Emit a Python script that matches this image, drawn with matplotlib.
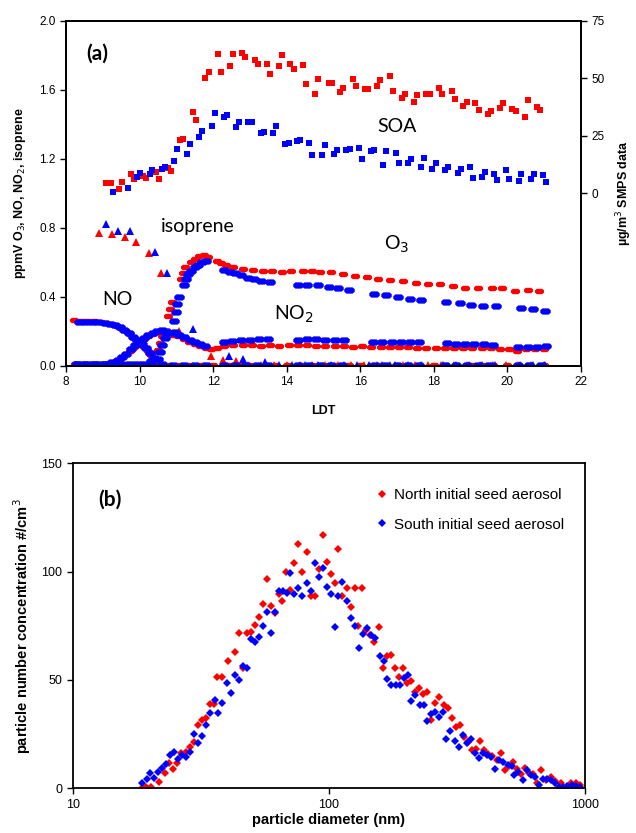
import numpy as np
import matplotlib
matplotlib.use("Agg")
import matplotlib.pyplot as plt

plt.rcParams['font.family'] = ['Liberation Sans', 'DejaVu Sans']

RED = '#ff0000'
BLUE = '#0000ff'

# ---------------- panel (a): chamber data vs local daylight time ----------------
# SOA from SMPS (right axis, ug/m3)
soa_t_n = [9.10, 9.21, 9.45, 9.52, 9.76, 9.85, 10.08, 10.17, 10.45, 10.52, 10.77, 10.85,
           11.10, 11.19, 11.46, 11.54, 11.79, 11.88, 12.13, 12.22, 12.47, 12.55, 12.79, 12.87,
           13.14, 13.22, 13.46, 13.54, 13.80, 13.88, 14.10, 14.19, 14.44, 14.52, 14.77, 14.85,
           15.15, 15.22, 15.46, 15.54, 15.79, 15.88, 16.12, 16.22, 16.46, 16.54, 16.80, 16.89,
           17.13, 17.22, 17.47, 17.55, 17.79, 17.89, 18.13, 18.22, 18.48, 18.58, 18.80, 18.89,
           19.13, 19.22, 19.47, 19.55, 19.79, 19.88, 20.13, 20.22, 20.47, 20.55, 20.80, 20.89]
soa_v_n = [4.5, 4.5, 1.7, 4.8, 8.5, 6.3, 7.6, 6.7, 9.0, 6.3, 10.9, 9.8,
           23.3, 23.5, 35.3, 31.7, 49.9, 52.8, 60.5, 52.8, 55.3, 60.5, 61.1, 59.3,
           57.9, 56.0, 56.1, 51.6, 55.3, 60.1, 56.0, 53.9, 55.8, 47.3, 43.2, 49.5,
           47.7, 48.1, 44.0, 45.8, 49.5, 46.8, 45.1, 45.1, 46.4, 49.0, 50.9, 44.5,
           41.4, 43.3, 39.6, 42.7, 43.3, 43.3, 45.7, 43.2, 44.5, 41.0, 38.1, 39.7,
           39.4, 36.1, 34.3, 35.8, 36.9, 39.3, 36.6, 35.8, 32.9, 40.4, 37.5, 36.1]

soa_t_s = [9.29, 9.68, 9.92, 10.01, 10.27, 10.35, 10.60, 10.69, 10.93, 11.01, 11.28, 11.37,
           11.62, 11.71, 11.96, 12.04, 12.29, 12.38, 12.63, 12.71, 12.96, 13.05, 13.30, 13.38,
           13.63, 13.71, 13.96, 14.05, 14.28, 14.36, 14.60, 14.69, 14.95, 15.05, 15.29, 15.38,
           15.62, 15.72, 15.96, 16.04, 16.29, 16.38, 16.63, 16.71, 16.97, 17.05, 17.30, 17.38,
           17.64, 17.72, 17.96, 18.05, 18.30, 18.39, 18.66, 18.75, 18.98, 19.06, 19.30, 19.39,
           19.63, 19.72, 19.97, 20.05, 20.31, 20.38, 20.64, 20.72, 20.97, 21.05]
soa_v_s = [0.4, 2.2, 7.0, 8.7, 8.2, 10.2, 10.6, 11.3, 13.8, 19.2, 16.9, 21.4,
           24.4, 27.2, 29.4, 34.8, 33.0, 34.2, 28.8, 30.8, 30.8, 31.1, 26.3, 26.8,
           26.2, 29.2, 21.4, 21.8, 22.8, 23.1, 21.8, 16.4, 16.6, 20.9, 16.9, 18.8,
           18.8, 19.2, 19.6, 14.7, 18.3, 18.8, 12.4, 18.3, 17.4, 13.0, 13.0, 14.8,
           11.2, 15.3, 10.6, 13.0, 10.2, 11.5, 8.7, 10.6, 11.2, 6.5, 7.2, 9.0,
           8.2, 5.7, 10.2, 6.1, 5.2, 8.5, 6.1, 8.5, 8.0, 4.8]

# O3 (ppmV)
o3_t_n = [8.25, 8.45, 8.65, 8.85, 9.05, 9.25, 9.45, 9.65, 9.85, 10.05, 10.25,
          10.42, 10.50, 10.56, 10.62, 10.78, 10.83, 10.88, 11.12, 11.18, 11.24, 11.40,
          11.50, 11.62, 11.75, 11.85, 12.10, 12.20, 12.35, 12.55, 12.82, 13.09, 13.36,
          13.59, 13.86, 14.13, 14.45, 14.68, 14.90, 15.20, 15.52, 15.85, 16.17, 16.49,
          16.82, 17.17, 17.51, 17.85, 18.16, 18.53, 18.84, 19.20, 19.57, 19.84, 20.20,
          20.55, 20.87]
o3_v_n = [0.01, 0.01, 0.01, 0.01, 0.01, 0.01, 0.01, 0.01, 0.01, 0.01, 0.01,
          0.04, 0.09, 0.13, 0.17, 0.29, 0.33, 0.37, 0.50, 0.54, 0.57, 0.60,
          0.62, 0.635, 0.64, 0.63, 0.605, 0.595, 0.585, 0.572, 0.563, 0.555, 0.551,
          0.546, 0.545, 0.548, 0.549, 0.546, 0.545, 0.541, 0.530, 0.518, 0.512, 0.504,
          0.496, 0.493, 0.478, 0.472, 0.474, 0.462, 0.452, 0.449, 0.449, 0.449, 0.433,
          0.439, 0.435]

o3_t_s = [8.30, 8.50, 8.70, 8.90, 9.10, 9.30, 9.50, 9.70, 9.90, 10.10, 10.30,
          10.50, 10.56, 10.62, 10.68, 10.72, 10.93, 10.98, 11.03, 11.08, 11.20, 11.26,
          11.32, 11.40, 11.50, 11.60, 11.70, 11.80, 12.30, 12.45, 12.60, 12.75, 12.95,
          13.10, 13.30, 13.55, 14.30, 14.55, 14.85, 15.15, 15.40, 15.68, 16.38, 16.70,
          17.02, 17.35, 17.65, 18.34, 18.71, 19.02, 19.34, 19.68, 20.38, 20.70, 21.03]
o3_v_s = [0.01, 0.01, 0.01, 0.01, 0.01, 0.01, 0.01, 0.01, 0.01, 0.01, 0.01,
          0.04, 0.08, 0.12, 0.16, 0.19, 0.26, 0.31, 0.36, 0.40, 0.47, 0.50,
          0.53, 0.55, 0.57, 0.585, 0.60, 0.605, 0.555, 0.545, 0.535, 0.525, 0.510,
          0.500, 0.490, 0.485, 0.470, 0.468, 0.465, 0.455, 0.448, 0.437, 0.417, 0.408,
          0.398, 0.388, 0.380, 0.371, 0.362, 0.352, 0.346, 0.346, 0.334, 0.328, 0.318]

# NO (ppmV)
no_t_n = [8.22, 8.40, 8.58, 8.76, 8.94, 9.10, 9.25, 9.38, 9.50, 9.62, 9.74, 9.86,
          9.98, 10.10, 10.22, 10.32, 10.42, 10.55, 10.80, 11.10, 11.40, 11.70, 12.00,
          12.40, 12.70, 13.00, 13.40, 13.70, 14.00, 14.40, 14.70, 15.00, 15.30, 15.70,
          16.00, 16.30, 16.60, 17.00, 17.30, 17.60, 18.00, 18.30, 18.60, 19.00, 19.30,
          19.60, 20.00, 20.30, 20.60, 21.00]
no_v_n = [0.264, 0.260, 0.258, 0.257, 0.255, 0.250, 0.243, 0.232, 0.218, 0.202, 0.182,
          0.162, 0.140, 0.115, 0.088, 0.060, 0.030, 0.010, 0.005, 0.005, 0.005, 0.005,
          0.005, 0.005, 0.005, 0.005, 0.005, 0.005, 0.005, 0.005, 0.005, 0.005, 0.005,
          0.005, 0.005, 0.005, 0.005, 0.005, 0.005, 0.005, 0.005, 0.005, 0.005, 0.005,
          0.005, 0.005, 0.005, 0.005, 0.005, 0.005]

no_t_s = [8.35, 8.52, 8.70, 8.88, 9.05, 9.20, 9.33, 9.46, 9.58, 9.70, 9.82, 9.94,
          10.06, 10.18, 10.28, 10.38, 10.30, 10.60, 10.90, 11.20, 11.50, 11.80, 12.30,
          12.60, 12.90, 13.20, 13.50, 14.30, 14.60, 14.90, 15.20, 15.50, 16.40, 16.70,
          17.00, 17.30, 17.60, 18.30, 18.60, 18.90, 19.20, 19.50, 20.30, 20.60, 20.90]
no_v_s = [0.255, 0.256, 0.255, 0.252, 0.248, 0.242, 0.233, 0.222, 0.205, 0.188, 0.168,
          0.148, 0.125, 0.100, 0.075, 0.045, 0.030, 0.008, 0.005, 0.005, 0.005, 0.005,
          0.005, 0.005, 0.005, 0.005, 0.005, 0.005, 0.005, 0.005, 0.005, 0.005, 0.005,
          0.005, 0.005, 0.005, 0.005, 0.005, 0.005, 0.005, 0.005, 0.005, 0.005, 0.005,
          0.005]

# NO2 (ppmV)
no2_t_n = [8.25, 8.50, 8.75, 9.00, 9.20, 9.35, 9.50, 9.62, 9.74, 9.86, 9.98, 10.10,
           10.22, 10.34, 10.46, 10.58, 10.68, 10.90, 11.05, 11.20, 11.35, 11.50, 11.65,
           11.80, 11.95, 12.10, 12.30, 12.55, 12.80, 13.05, 13.30, 13.55, 13.80, 14.05,
           14.30, 14.55, 14.80, 15.05, 15.30, 15.55, 15.80, 16.05, 16.30, 16.55, 16.80,
           17.05, 17.30, 17.55, 17.80, 18.05, 18.30, 18.55, 18.80, 19.05, 19.30, 19.55,
           19.80, 20.05, 20.25, 20.50, 20.75, 21.00]
no2_v_n = [0.010, 0.010, 0.010, 0.012, 0.018, 0.030, 0.045, 0.065, 0.085, 0.110, 0.130,
           0.150, 0.170, 0.185, 0.195, 0.200, 0.195, 0.180, 0.170, 0.155, 0.140, 0.125,
           0.115, 0.105, 0.095, 0.105, 0.115, 0.120, 0.118, 0.118, 0.115, 0.118, 0.115,
           0.118, 0.120, 0.120, 0.115, 0.115, 0.115, 0.112, 0.110, 0.112, 0.110, 0.110,
           0.108, 0.110, 0.108, 0.105, 0.105, 0.100, 0.105, 0.100, 0.100, 0.100, 0.100,
           0.100, 0.098, 0.095, 0.085, 0.095, 0.097, 0.098]

no2_t_s = [8.30, 8.55, 8.80, 9.05, 9.25, 9.40, 9.52, 9.64, 9.76, 9.88, 10.00, 10.12,
           10.24, 10.36, 10.48, 10.60, 10.72, 10.85, 10.95, 11.08, 11.22, 11.36, 11.50,
           11.64, 11.78, 12.30, 12.50, 12.75, 13.00, 13.25, 13.50, 14.30, 14.55, 14.80,
           15.05, 15.30, 15.55, 16.35, 16.60, 16.85, 17.10, 17.35, 17.60, 18.35, 18.60,
           18.85, 19.10, 19.35, 19.60, 20.30, 20.55, 20.80, 21.05]
no2_v_s = [0.010, 0.010, 0.010, 0.012, 0.020, 0.035, 0.050, 0.070, 0.095, 0.120, 0.140,
           0.160, 0.175, 0.190, 0.200, 0.205, 0.200, 0.190, 0.195, 0.180, 0.165, 0.150,
           0.140, 0.125, 0.115, 0.135, 0.145, 0.150, 0.148, 0.152, 0.155, 0.150, 0.152,
           0.155, 0.150, 0.148, 0.150, 0.140, 0.140, 0.138, 0.140, 0.140, 0.138, 0.130,
           0.128, 0.128, 0.125, 0.125, 0.122, 0.110, 0.110, 0.110, 0.112]

# isoprene (ppmV)
iso_t_n = [8.90, 9.25, 9.59, 9.90, 10.25, 10.58, 11.08, 11.95, 12.26, 12.62, 12.95,
           13.30, 13.65, 14.00, 14.35, 14.70, 15.05, 15.40, 15.75, 16.10, 16.45, 16.80,
           17.15, 17.50, 17.85, 18.20, 18.55, 18.90, 19.25, 19.60, 19.95, 20.30, 20.65,
           21.00]
iso_v_n = [0.768, 0.762, 0.744, 0.715, 0.655, 0.536, 0.200, 0.058, 0.033, 0.027, 0.005,
           0.005, 0.005, 0.005, 0.005, 0.005, 0.005, 0.005, 0.005, 0.005, 0.005, 0.005,
           0.005, 0.005, 0.005, 0.005, 0.005, 0.005, 0.005, 0.005, 0.005, 0.005, 0.005,
           0.005]

iso_t_s = [9.09, 9.40, 9.74, 10.43, 10.75, 11.44, 12.44, 12.80, 13.41, 13.80, 14.15,
           14.50, 14.85, 15.20, 15.55, 15.90, 16.25, 16.60, 16.95, 17.30, 17.65, 18.25,
           18.60, 18.95, 19.30, 19.65, 20.35, 20.70, 21.02]
iso_v_s = [0.820, 0.781, 0.781, 0.661, 0.536, 0.211, 0.058, 0.039, 0.023, 0.005, 0.005,
           0.005, 0.005, 0.005, 0.005, 0.005, 0.005, 0.005, 0.005, 0.005, 0.005, 0.005,
           0.005, 0.005, 0.005, 0.005, 0.005, 0.005, 0.005]

# ---------------- panel (b): initial seed size distributions ----------------
d_n = [18.8, 19.3, 20.2, 21.7, 22.96, 23.8, 24.7, 25.6, 26.6, 27.8, 28.6, 29.7, 30.8,
       31.9, 33.1, 34.4, 35.6, 36.7, 38.4, 40.3, 42.9, 44.6, 46.3, 47.8, 49.5, 51.4,
       53.3, 55.3, 57.4, 59.6, 61.8, 63.8, 65.8, 68.2, 70.8, 73.4, 76.1, 78.9, 81.9,
       84.9, 88.1, 91.4, 94.8, 98.4, 102.1, 105.9, 109.0, 113.0, 117.2, 121.6, 126.2,
       130.0, 134.8, 139.9, 145.1, 150.5, 157.2, 163.1, 169.2, 175.5, 180.6, 187.4,
       194.4, 201.6, 209.1, 217.0, 225.1, 233.5, 242.2, 251.2, 260.6, 270.3, 280.4,
       290.8, 301.6, 312.9, 324.6, 336.7, 349.3, 362.4, 375.9, 389.9, 404.4, 419.5,
       435.2, 451.4, 468.3, 485.8, 503.9, 522.7, 542.2, 562.5, 583.5, 605.3, 627.9,
       651.4, 675.7, 706.0, 738.0, 765.0, 803.0, 848.0, 880.0, 919.0, 953.0]
n_n = [0.8, 0.8, 0.8, 3.1, 7.2, 11.5, 8.8, 11.5, 16.5, 16.9, 18.9, 21.2, 29.2,
       31.5, 32.3, 38.9, 38.9, 51.5, 51.2, 58.9, 63.1, 71.8, 55.4, 71.8, 72.3, 75.4,
       78.9, 85.1, 96.5, 84.3, 81.1, 89.7, 86.6, 99.7, 91.5, 103.8, 112.8, 100.0, 108.9,
       88.9, 88.5, 101.1, 116.9, 104.2, 98.8, 94.6, 110.3, 88.5, 92.3, 83.5, 92.3,
       74.9, 92.6, 73.1, 70.8, 67.4, 74.6, 55.4, 61.2, 61.5, 55.4, 51.5,
       55.4, 48.8, 49.7, 44.6, 46.2, 43.5, 44.6, 31.5, 39.2, 42.3, 38.5,
       36.9, 32.3, 28.5, 29.2, 23.5, 21.5, 17.7, 18.0, 21.8, 17.7, 15.8,
       14.9, 13.1, 16.2, 8.5, 10.3, 12.3, 8.8, 6.6, 9.2, 6.9, 6.6,
       2.6, 8.5, 3.8, 5.4, 3.5, 2.6, 0.5, 2.6, 2.3, 1.5]

d_s = [18.6, 19.5, 20.1, 20.8, 21.6, 22.4, 23.2, 23.9, 24.8, 25.7, 26.7, 27.7, 28.7,
       29.8, 30.9, 32.1, 33.2, 34.5, 35.8, 36.8, 38.2, 39.9, 41.4, 43.0, 44.6, 46.3,
       48.0, 49.8, 51.6, 53.5, 55.5, 57.6, 59.7, 61.5, 63.8, 66.2, 68.6, 70.7, 73.4,
       76.1, 78.9, 81.9, 84.9, 88.1, 91.4, 94.8, 98.4, 102.1, 105.9, 109.0, 113.0,
       117.2, 121.6, 126.2, 130.9, 135.8, 141.0, 146.2, 151.7, 158.5, 164.5, 169.2,
       175.5, 182.1, 188.8, 195.9, 203.2, 209.1, 217.0, 226.7, 235.2, 242.2, 251.2,
       258.7, 268.4, 278.4, 287.7, 298.4, 309.5, 321.0, 333.0, 345.4, 358.3, 371.7,
       385.5, 399.9, 414.8, 430.2, 446.3, 462.9, 480.2, 498.1, 516.6, 530.0, 549.8,
       570.3, 591.6, 613.7, 636.6, 660.3, 685.0, 710.5, 737.0, 765.0, 793.0, 823.0,
       854.0, 886.0, 919.0, 953.0]
n_s = [2.6, 4.2, 6.9, 4.6, 7.7, 9.2, 11.2, 15.4, 16.9, 13.4, 15.4, 14.6, 16.9,
       25.1, 21.1, 24.2, 29.2, 34.9, 40.8, 34.9, 39.2, 48.8, 43.8, 52.3, 50.0, 56.2,
       55.4, 68.9, 67.4, 70.0, 74.9, 81.5, 71.8, 81.5, 91.2, 91.2, 90.0, 99.2, 89.5,
       92.3, 88.9, 94.6, 91.2, 103.8, 97.7, 101.5, 93.1, 89.5, 74.6, 88.5, 95.1,
       86.6, 78.8, 74.9, 64.9, 71.2, 73.8, 70.8, 69.2, 61.1, 58.9, 50.6,
       47.7, 47.7, 47.7, 50.8, 52.3, 40.5, 43.1, 38.5, 38.5, 31.1, 34.3,
       35.4, 33.1, 35.4, 22.6, 26.2, 21.8, 19.2, 24.6, 20.8, 22.6, 16.2,
       13.8, 16.5, 15.4, 14.6, 8.8, 13.1, 12.0, 10.8, 10.3, 6.2, 7.7,
       3.8, 8.2, 6.2, 5.4, 1.5, 4.2, 4.2, 3.8, 2.6, 0.5, 0.5,
       1.1, 1.5, 1.1, 0.5]

# wide rounded marker for the densely sampled gas-phase data
blob = [(-1.0, -0.25), (-1.0, 0.25), (-0.6, 0.6), (0.6, 0.6),
        (1.0, 0.25), (1.0, -0.25), (0.6, -0.6), (-0.6, -0.6)]

fig = plt.figure(figsize=(6.36, 8.33), dpi=100)
ax = fig.add_axes([0.1038, 0.561, 0.8097, 0.4142])
ax2 = ax.twinx()

for t, v, c, ms in [(no2_t_n, no2_v_n, RED, 6.5), (no_t_n, no_v_n, RED, 6.5),
                    (o3_t_n, o3_v_n, RED, 6.5)]:
    ax.plot(t, v, ls='none', marker=blob, ms=ms, color=c, mew=0)
ax.plot(iso_t_n, iso_v_n, ls='none', marker='^', ms=5.5, color=RED, mew=0)
for t, v, c, ms in [(no2_t_s, no2_v_s, BLUE, 7.5), (no_t_s, no_v_s, BLUE, 7.5),
                    (o3_t_s, o3_v_s, BLUE, 7.5)]:
    ax.plot(t, v, ls='none', marker=blob, ms=ms, color=c, mew=0)
ax.plot(iso_t_s, iso_v_s, ls='none', marker='^', ms=5.5, color=BLUE, mew=0)

ax2.plot(soa_t_n, soa_v_n, ls='none', marker='s', ms=4.2, color=RED, mew=0)
ax2.plot(soa_t_s, soa_v_s, ls='none', marker='s', ms=4.2, color=BLUE, mew=0)

ax.set_xlim(8, 22)
ax.set_ylim(0, 2.0)
ax.set_xticks(np.arange(8, 23, 2))
ax.set_yticks([0.0, 0.4, 0.8, 1.2, 1.6, 2.0])
ax.set_yticklabels(['0.0', '0.4', '0.8', '1.2', '1.6', '2.0'])
ax2.set_ylim(-75, 75)
ax2.set_yticks([0, 25, 50, 75])

for a in (ax, ax2):
    a.tick_params(direction='out', length=4, width=1.0, labelsize=8.5, color='black')
    for s in a.spines.values():
        s.set_linewidth(1.3)

ax.set_xlabel('LDT', fontsize=9, fontweight='bold', labelpad=12)
ax.set_ylabel('ppmV O$_3$, NO, NO$_2$, isoprene', fontsize=9, fontweight='bold', labelpad=8)
ax2.set_ylabel('\u00b5g/m$^3$ SMPS data', fontsize=9, fontweight='bold', labelpad=7)

lab = dict(family=['Lato', 'DejaVu Sans'], ha='center', va='baseline')
ax.text(8.55, 1.772, '(a)', fontsize=15, fontweight='bold', family=['Lato', 'DejaVu Sans'],
        ha='left', va='baseline')
ax.text(17.0, 1.353, 'SOA', fontsize=14, **lab)
ax.text(11.57, 0.773, 'isoprene', fontsize=14, **lab)
ax.text(17.0, 0.671, 'O$_3$', fontsize=14, **lab)
ax.text(9.4, 0.351, 'NO', fontsize=14, **lab)
ax.text(14.2, 0.265, 'NO$_2$', fontsize=14, **lab)

# ---------------- panel (b) ----------------
bx = fig.add_axes([0.1142, 0.0537, 0.8057, 0.3902])
bx.plot(d_n, n_n, ls='none', marker='D', ms=3.6, color=RED, mew=0,
        label='North initial seed aerosol')
bx.plot(d_s, n_s, ls='none', marker='D', ms=3.6, color=BLUE, mew=0,
        label='South initial seed aerosol')
bx.set_xscale('log')
bx.set_xlim(10, 1000)
bx.set_ylim(0, 150)
bx.set_xticks([10, 100, 1000])
bx.set_xticklabels(['10', '100', '1000'])
bx.minorticks_off()
bx.set_yticks([0, 50, 100, 150])
bx.tick_params(direction='out', length=4, width=1.0, labelsize=9, color='black')
for s in bx.spines.values():
    s.set_linewidth(1.3)
bx.set_xlabel('particle diameter (nm)', fontsize=10.5, fontweight='bold', labelpad=2)
bx.set_ylabel('particle number concentration #/cm$^3$', fontsize=10.5, fontweight='bold',
              labelpad=6)
bx.text(0.05, 0.887, '(b)', transform=bx.transAxes, fontsize=15, fontweight='bold',
        family=['Lato', 'DejaVu Sans'], ha='left', va='center')
bx.legend(loc='upper left', bbox_to_anchor=(0.565, 0.965), frameon=False, fontsize=11,
          handlelength=0.8, handletextpad=0.4, labelspacing=1.0, markerscale=1.1)

fig.savefig('out.png', dpi=100)
